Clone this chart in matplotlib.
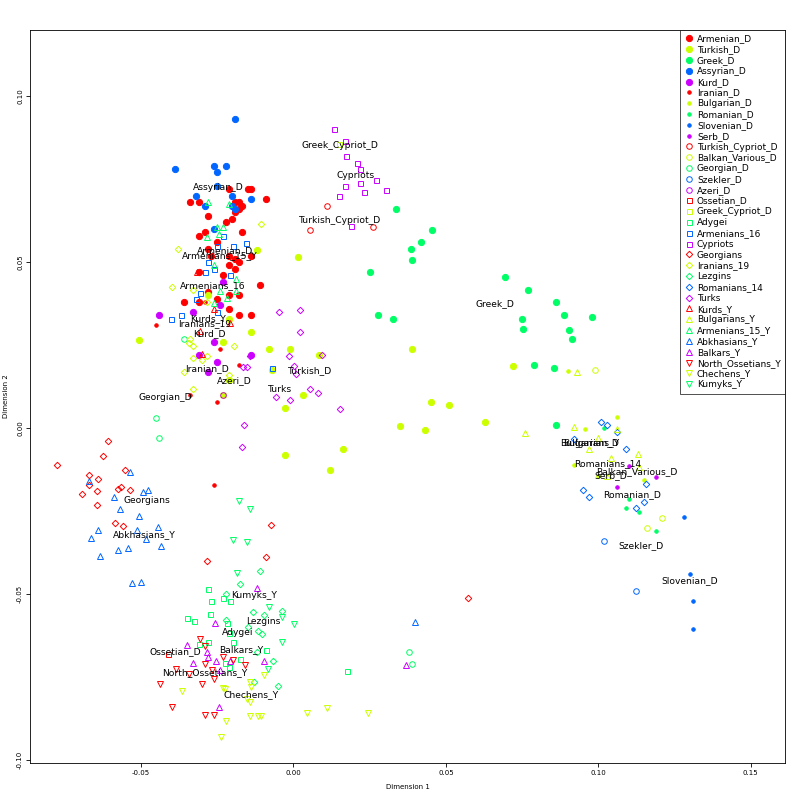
import matplotlib
matplotlib.use("Agg")
import matplotlib.pyplot as plt
import numpy as np

# R rainbow(5)
COLS = ["#FF0000", "#CCFF00", "#00FF66", "#0066FF", "#CC00FF"]

# =========================
# DATA (x, y) per group
# =========================
armenian_d = [(-0.021,0.072),(-0.015,0.072),(-0.014,0.072),(-0.009,0.069),(-0.018,0.068),(-0.019,0.068),
              (-0.034,0.068),(-0.031,0.068),(-0.017,0.067),(-0.018,0.066),(-0.019,0.065),(-0.028,0.064),
              (-0.020,0.063),(-0.022,0.062),(-0.031,0.058),(-0.029,0.059),(-0.017,0.059),(-0.025,0.056),
              (-0.028,0.054),(-0.027,0.052),(-0.014,0.052),(-0.021,0.052),(-0.019,0.051),(-0.018,0.050),
              (-0.021,0.049),(-0.019,0.048),(-0.031,0.047),(-0.023,0.046),(-0.011,0.043),(-0.028,0.041),
              (-0.021,0.040),(-0.018,0.040),(-0.025,0.039),(-0.031,0.038),(-0.036,0.038),(-0.021,0.036),
              (-0.018,0.034),(-0.014,0.034)]
turkish_d = [(-0.0505,0.0265),(-0.028,0.040),(-0.021,0.033),(-0.014,0.029),(-0.023,0.026),(-0.008,0.024),
             (-0.001,0.024),(0.0085,0.022),(-0.007,0.0175),(-0.021,0.0145),(-0.023,0.010),(-0.0026,0.006),
             (0.003,0.010),(0.0164,-0.0063),(0.0016,0.0515),(0.039,0.024),(0.045,0.008),(0.051,0.007),
             (0.035,0.0006),(0.043,-0.0006),(0.063,0.0018),(0.072,0.0187),(-0.012,0.0536),(-0.0026,-0.0081),
             (0.012,-0.0126)]
greek_d = [(0.0335,0.066),(0.0456,0.0596),(0.042,0.056),(0.0387,0.054),(0.039,0.0506),(0.025,0.047),
           (0.0695,0.0455),(0.077,0.0415),(0.086,0.038),(0.075,0.033),(0.0886,0.034),(0.098,0.0334),
           (0.0754,0.0298),(0.0905,0.0295),(0.0915,0.0268),(0.0276,0.034),(0.0328,0.033),(0.079,0.019),
           (0.0856,0.018),(0.086,0.001)]
assyrian_d = [(-0.019,0.093),(-0.039,0.078),(-0.026,0.079),(-0.025,0.077),(-0.022,0.079),(-0.025,0.073),
              (-0.020,0.070),(-0.032,0.070),(-0.014,0.069),(-0.029,0.067),(-0.020,0.067),(-0.019,0.066),
              (-0.026,0.060)]
kurd_d = [(-0.023,0.044),(-0.024,0.037),(-0.044,0.034),(-0.033,0.035),(-0.026,0.026),(-0.031,0.022),
          (-0.025,0.020),(-0.014,0.022),(-0.028,0.017)]
iranian_d = [(-0.045,0.031),(-0.029,0.038),(-0.024,0.024),(-0.018,0.019),(-0.034,0.010),(-0.025,0.008),
             (-0.026,-0.017)]
bulgarian_d = [(0.106,0.0033),(0.0955,-0.0003),(0.092,-0.011),(0.100,-0.0144),(0.115,-0.0157),(0.0902,0.0172)]
romanian_d = [(0.102,0.0),(0.110,-0.0214),(0.109,-0.024),(0.1135,-0.0253),(0.119,-0.031)]
slovenian_d = [(0.128,-0.0268),(0.130,-0.044),(0.131,-0.052),(0.131,-0.0605)]
serb_d = [(0.110,-0.0114),(0.119,-0.0148),(0.106,-0.0178)]
turkish_cypriot_d = [(0.011,0.067),(0.0055,0.0596),(0.026,0.0605)]
balkan_various_d = [(0.099,0.0175),(0.121,-0.027),(0.116,-0.030)]
georgian_d = [(-0.036,0.027),(-0.045,0.003),(-0.044,-0.003),(0.038,-0.0675),(0.039,-0.071)]
szekler_d = [(0.1125,-0.049),(0.102,-0.034)]
azeri_d = [(-0.023,0.010)]
ossetian_d = [(-0.041,-0.068)]
greek_cypriot_d = [(0.015,0.0855)]
adygei = [(-0.028,-0.0485),(-0.027,-0.052),(-0.023,-0.051),(-0.0207,-0.052),(-0.035,-0.057),(-0.0325,-0.058),
          (-0.0275,-0.056),(-0.0217,-0.0587),(-0.028,-0.0644),(-0.031,-0.065),(-0.0197,-0.0644),(-0.021,-0.072),
          (-0.0174,-0.0695),(-0.009,-0.0668),(-0.0223,-0.0707),(-0.021,-0.0617),(0.0177,-0.073)]
armenians_16 = [(-0.023,0.058),(-0.0197,0.055),(-0.0154,0.0557),(-0.025,0.055),(-0.028,0.050),(-0.026,0.048),
                (-0.029,0.047),(-0.0207,0.046),(-0.0305,0.0406),(-0.032,0.039),(-0.037,0.034),(-0.040,0.033),
                (-0.025,0.035),(-0.007,0.018)]
cypriots = [(0.0134,0.090),(0.017,0.0864),(0.0174,0.082),(0.0207,0.080),(0.022,0.078),(0.027,0.0747),
            (0.0217,0.0737),(0.017,0.073),(0.0233,0.071),(0.0305,0.0716),(0.015,0.070),(0.019,0.061)]
georgians = [(-0.0607,-0.0039),(-0.0623,-0.0084),(-0.0774,-0.0111),(-0.0554,-0.0126),(-0.0669,-0.0141),
             (-0.064,-0.0154),(-0.0669,-0.0172),(-0.0692,-0.0199),(-0.0643,-0.019),(-0.0577,-0.0184),
             (-0.0564,-0.0178),(-0.0535,-0.0187),(-0.0643,-0.0232),(-0.0584,-0.0286),(-0.0558,-0.0295),
             (-0.0072,-0.029),(-0.0089,-0.0388),(-0.0285,-0.040),(0.0574,-0.051)]
iranians_19 = [(-0.0105,0.0614),(-0.038,0.054),(-0.0397,0.0424),(-0.033,0.0415),(-0.0285,0.038),(-0.034,0.0268),
               (-0.0344,0.0256),(-0.0328,0.0247),(-0.0194,0.0247),(-0.0328,0.021),(-0.030,0.0205),
               (-0.0285,0.0217),(-0.036,0.0169),(-0.021,0.016),(-0.0328,0.0117)]
lezgins = [(-0.0108,-0.043),(-0.0174,-0.047),(-0.022,-0.050),(-0.0134,-0.0554),(-0.0095,-0.0563),
           (-0.0036,-0.055),(-0.022,-0.0578),(-0.0115,-0.061),(-0.0102,-0.062),(-0.015,-0.060),
           (-0.0118,-0.0674),(-0.0066,-0.070),(-0.0128,-0.0765),(-0.0052,-0.0777)]
romanians_14 = [(0.101,0.002),(0.103,0.001),(0.106,-0.0012),(0.092,-0.0033),(0.109,-0.0063),(0.1155,-0.0169),
                (0.095,-0.0187),(0.097,-0.0208),(0.115,-0.0223),(0.1125,-0.024)]
turks = [(-0.0046,0.0349),(0.0023,0.0355),(0.0023,0.0289),(-0.0016,0.0217),(0.0003,0.0187),(0.0095,0.022),
         (-0.0144,0.0217),(-0.0164,0.0184),(-0.0151,0.0184),(0.001,0.0163),(0.0056,0.0117),(0.008,0.0105),
         (-0.0056,0.0093),(-0.001,0.0084),(0.0154,0.0057),(-0.0161,0.001),(-0.017,-0.0057)]
kurds_y = [(-0.0315,0.047),(-0.026,0.036),(-0.0207,0.0316),(-0.0305,0.0292),(-0.030,0.0223)]
bulgarians_y = [(0.092,0.0003),(0.106,-0.0003),(0.100,-0.003),(0.097,-0.0063),(0.113,-0.0078),(0.104,-0.009),
                (0.1027,-0.0144),(0.1135,-0.0117),(0.093,0.0169),(0.076,-0.0015)]
armenians_15_y = [(-0.028,0.068),(-0.021,0.0674),(-0.025,0.0605),(-0.023,0.0605),(-0.0285,0.0575),
                  (-0.0243,0.0584),(-0.026,0.049),(-0.0187,0.0448),(-0.024,0.0412),(-0.0187,0.0412),
                  (-0.0217,0.0391),(-0.026,0.0376)]
abkhasians_y = [(-0.0535,-0.0132),(-0.0672,-0.016),(-0.0495,-0.0193),(-0.0476,-0.0187),(-0.0587,-0.0208),
                (-0.057,-0.0244),(-0.0508,-0.0265),(-0.064,-0.0307),(-0.0663,-0.0331),(-0.0512,-0.0307),
                (-0.0443,-0.0298),(-0.0485,-0.0334),(-0.0433,-0.0355),(-0.0544,-0.0361),(-0.0574,-0.0367),
                (-0.0636,-0.0385),(-0.0531,-0.0467),(-0.0499,-0.0464),(0.040,-0.0584)]
balkars_y = [(-0.0121,-0.048),(-0.0256,-0.0587),(-0.035,-0.0653),(-0.0285,-0.0674),(-0.028,-0.069),
             (-0.033,-0.0707),(-0.0253,-0.070),(-0.0207,-0.0701),(-0.0095,-0.0701),(-0.024,-0.0728),
             (-0.0243,-0.084),(0.037,-0.0713)]
north_ossetians_y = [(-0.0305,-0.0635),(-0.0289,-0.0656),(-0.023,-0.069),(-0.0289,-0.071),(-0.0341,-0.074),
                     (-0.0266,-0.0728),(-0.0197,-0.0698),(-0.016,-0.0713),(-0.0384,-0.0725),(-0.0436,-0.077),
                     (-0.030,-0.0771),(-0.0262,-0.0756),(-0.0397,-0.084),(-0.029,-0.0864),(-0.0262,-0.0864)]
chechens_y = [(-0.0367,-0.079),(-0.023,-0.0783),(-0.0226,-0.0786),(-0.014,-0.078),(-0.0098,-0.0743),
              (-0.0144,-0.0765),(-0.0151,-0.0816),(-0.0144,-0.0825),(-0.022,-0.0882),(-0.0236,-0.093),
              (-0.0141,-0.0867),(-0.0115,-0.0867),(-0.0105,-0.0867),(0.0046,-0.0858),(0.0111,-0.0843),
              (0.0243,-0.0858)]
kumyks_y = [(-0.018,-0.022),(-0.0144,-0.0244),(-0.0197,-0.0337),(-0.0151,-0.0343),(-0.0184,-0.0436),
            (-0.0079,-0.0539),(-0.0039,-0.0569),(0.0003,-0.059),(-0.0039,-0.0644),(-0.0082,-0.0725)]

group_names = ["Armenian_D", "Turkish_D", "Greek_D", "Assyrian_D", "Kurd_D", "Iranian_D", "Bulgarian_D",
               "Romanian_D", "Slovenian_D", "Serb_D", "Turkish_Cypriot_D", "Balkan_Various_D", "Georgian_D",
               "Szekler_D", "Azeri_D", "Ossetian_D", "Greek_Cypriot_D", "Adygei", "Armenians_16", "Cypriots",
               "Georgians", "Iranians_19", "Lezgins", "Romanians_14", "Turks", "Kurds_Y", "Bulgarians_Y",
               "Armenians_15_Y", "Abkhasians_Y", "Balkars_Y", "North_Ossetians_Y", "Chechens_Y", "Kumyks_Y"]
group_data = [armenian_d, turkish_d, greek_d, assyrian_d, kurd_d, iranian_d, bulgarian_d, romanian_d,
              slovenian_d, serb_d, turkish_cypriot_d, balkan_various_d, georgian_d, szekler_d, azeri_d,
              ossetian_d, greek_cypriot_d, adygei, armenians_16, cypriots, georgians, iranians_19, lezgins,
              romanians_14, turks, kurds_y, bulgarians_y, armenians_15_y, abkhasians_y, balkars_y,
              north_ossetians_y, chechens_y, kumyks_y]

# label positions
label_names = ["Greek_Cypriot_D", "Cypriots", "Turkish_Cypriot_D", "Assyrian_D", "Armenian_D", "Armenians_15_Y",
               "Armenians_16", "Kurds_Y", "Iranians_19", "Kurd_D", "Iranian_D", "Azeri_D", "Turkish_D", "Turks",
               "Georgian_D", "Greek_D", "Bulgarian_D", "Bulgarians_Y", "Romanians_14", "Balkan_Various_D",
               "Serb_D", "Romanian_D", "Szekler_D", "Slovenian_D", "Georgians", "Abkhasians_Y", "Kumyks_Y",
               "Lezgins", "Adygei", "Ossetian_D", "Balkars_Y", "North_Ossetians_Y", "Chechens_Y"]
label_x = [0.0151, 0.0203, 0.0154, -0.0246, -0.0223, -0.024, -0.0266, -0.028, -0.029, -0.0276, -0.0282,
           -0.0194, 0.0056, -0.0043, -0.042, 0.066, 0.0977, 0.0971, 0.103, 0.1125, 0.104, 0.111, 0.114,
           0.130, -0.048, -0.049, -0.0128, -0.0098, -0.0184, -0.0387, -0.0171, -0.0289, -0.014]
label_y = [0.0852, 0.0762, 0.0626, 0.0726, 0.0536, 0.052, 0.043, 0.033, 0.0316, 0.0286, 0.018, 0.0144,
           0.0172, 0.0117, 0.0093, 0.0376, -0.0045, -0.0045, -0.0108, -0.013, -0.0144, -0.020, -0.0355,
           -0.046, -0.0217, -0.032, -0.0503, -0.0581, -0.0614, -0.0674, -0.0668, -0.0737, -0.0803]

# =========================
# PLOT
# =========================
fig = plt.figure(figsize=(8, 8), dpi=100)
ax = fig.add_axes([0.0375, 0.04625, 0.944, 0.91625])

# marker style per block of 5 groups (R pch 16, 20, 1, 0, 5, 2, 6)
block_styles = [("o", 4.5, True), ("o", 2.5, True), ("o", 4, False), ("s", 3.6, False),
                ("D", 3.3, False), ("^", 4.5, False), ("v", 4.5, False)]

for i, (name, pts) in enumerate(zip(group_names, group_data)):
    m, s, filled = block_styles[i // 5]
    col = COLS[i % 5]
    pts = np.array(pts)
    ax.plot(pts[:, 0], pts[:, 1], linestyle="none", marker=m, markersize=s,
            markerfacecolor=col if filled else "none", markeredgecolor=col,
            markeredgewidth=0.7, label=name)

for n, x, y in zip(label_names, label_x, label_y):
    ax.text(x, y, n, fontsize=6.6, ha="center", va="center", color="black")

ax.set_xlim(-0.0864, 0.1613)
ax.set_ylim(-0.1008, 0.1199)
ax.set_xticks([-0.05, 0, 0.05, 0.10, 0.15])
ax.set_xticklabels(["-0.05", "0.00", "0.05", "0.10", "0.15"])
ax.set_yticks([-0.10, -0.05, 0, 0.05, 0.10])
ax.set_yticklabels(["-0.10", "-0.05", "0.00", "0.05", "0.10"], rotation=90, va="center")
ax.tick_params(labelsize=5, length=3, width=0.6, pad=2)
ax.set_xlabel("Dimension 1", fontsize=5, labelpad=6)
ax.set_ylabel("Dimension 2", fontsize=5, labelpad=6)
for sp in ax.spines.values():
    sp.set_linewidth(0.6)

leg = ax.legend(loc="upper right", fontsize=6.5, frameon=True, fancybox=False, borderaxespad=0,
                handletextpad=0.4, labelspacing=0.2, borderpad=0.5, handlelength=1.0)
leg.get_frame().set_edgecolor("black")
leg.get_frame().set_linewidth(0.6)

fig.savefig("out.png", dpi=100)
